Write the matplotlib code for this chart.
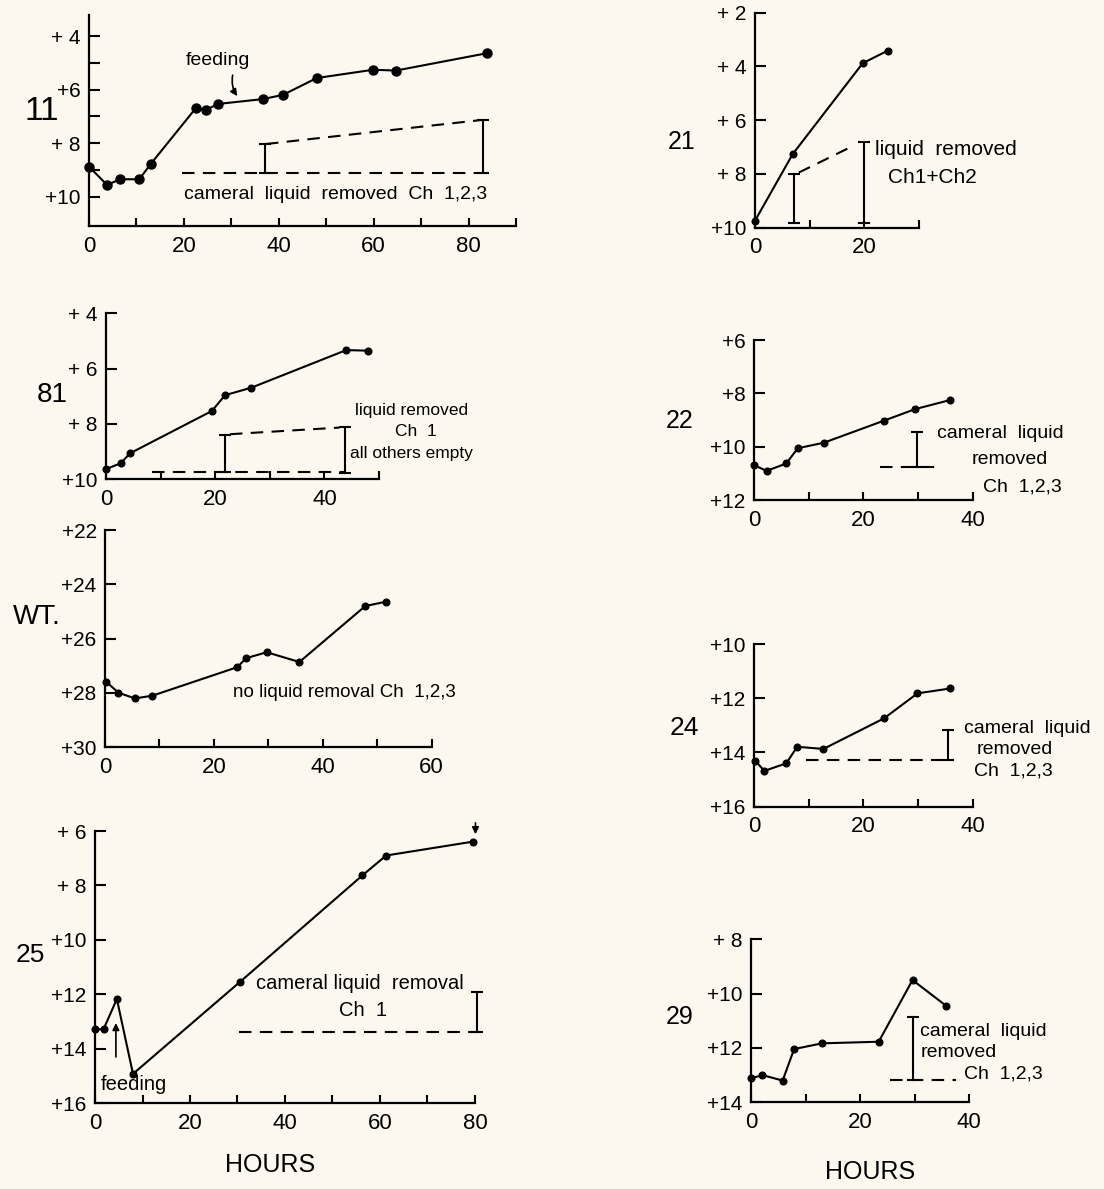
import numpy as np
import matplotlib
matplotlib.use("Agg")
import matplotlib.pyplot as plt

plt.rcParams['font.family'] = ['Liberation Sans', 'DejaVu Sans']

W, H = 1104, 1189
BG = '#fcf8f0'

# ---- data (hours, weight) ----
h11 = [0, 3.8, 6.6, 10.6, 13, 22.5, 24.7, 27.2, 36.6, 40.9, 48, 59.9, 64.7, 83.9]
w11 = [8.88, 9.56, 9.35, 9.35, 8.78, 6.69, 6.75, 6.53, 6.35, 6.19, 5.56, 5.25, 5.28, 4.63]
base11 = ([19.7, 82.0], [9.1, 9.1])
slope11 = ([37.3, 82.8], [8.03, 7.13])
bars11 = [(37.0, 8.03, 9.1), (83.1, 7.13, 9.1)]

h21 = [0, 6.9, 19.7, 24.3]
w21 = [9.74, 7.26, 3.88, 3.41]
slope21 = ([8.0, 18.1], [7.95, 6.94])
bars21 = [(7.1, 8.0, 9.83), (19.9, 6.8, 9.83)]

h81 = [0, 2.7, 4.4, 19.4, 21.8, 26.6, 44, 47.9]
w81 = [9.63, 9.42, 9.06, 7.53, 6.96, 6.69, 5.33, 5.35]
base81 = ([8.4, 44.0], [9.75, 9.75])
slope81 = ([22.7, 42.8], [8.37, 8.13])
bars81 = [(21.8, 8.4, 9.75), (43.7, 8.12, 9.78)]

h22 = [0, 2.3, 5.9, 8, 12.8, 23.7, 29.5, 35.9]
w22 = [10.69, 10.91, 10.63, 10.06, 9.85, 9.03, 8.59, 8.25]
base22 = ([23.0, 34.0], [10.78, 10.78])
bars22 = [(29.9, 9.44, 10.78)]

h28 = [0.2, 2.45, 5.5, 8.7, 24.3, 25.9, 29.7, 35.7, 47.8, 51.6]
w28 = [27.58, 27.99, 28.2, 28.1, 27.05, 26.72, 26.5, 26.86, 24.8, 24.64]

h24 = [0.2, 1.9, 5.9, 7.9, 12.7, 23.8, 29.9, 35.9]
w24 = [14.3, 14.68, 14.4, 13.79, 13.87, 12.74, 11.82, 11.64]
base24 = ([9.6, 35.5], [14.28, 14.28])
bars24 = [(35.4, 13.17, 14.28)]

h25 = [0, 1.8, 4.6, 8, 30.6, 56.3, 61.3, 79.6]
w25 = [13.28, 13.28, 12.17, 14.92, 11.53, 7.63, 6.9, 6.39]
base25 = ([30.4, 80.8], [13.37, 13.37])
bars25 = [(80.4, 11.92, 13.37)]

h29 = [0, 2.1, 5.8, 7.9, 13, 23.4, 29.6, 35.7]
w29 = [13.12, 13.0, 13.2, 12.04, 11.83, 11.77, 9.5, 10.44]
base29 = ([25.4, 37.6], [13.18, 13.18])
bars29 = [(29.7, 10.85, 13.18)]

fig = plt.figure(figsize=(W / 100, H / 100), dpi=100, facecolor=BG)


def panel(l, r, t, b, xlim, ylim, xticks, xlabels, yticks, ylabels):
    ax = fig.add_axes([l / W, 1 - b / H, (r - l) / W, (b - t) / H])
    ax.set_facecolor(BG)
    ax.patch.set_alpha(0)
    ax.set_xlim(*xlim)
    ax.set_ylim(*ylim)
    for s in ['top', 'right']:
        ax.spines[s].set_visible(False)
    for s in ['left', 'bottom']:
        ax.spines[s].set_linewidth(1.6)
    ax.set_xticks(xticks)
    ax.set_xticklabels(xlabels)
    ax.set_yticks(yticks)
    ax.set_yticklabels(ylabels)
    ax.tick_params(axis='y', direction='in', length=8, width=1.5, pad=6, labelsize=15)
    ax.tick_params(axis='x', direction='in', length=6, width=1.5, pad=7, labelsize=16)
    return ax


def series(ax, h, w, ms=4.8):
    ax.plot(h, w, color='k', lw=1.5, marker='o', ms=ms, clip_on=False, zorder=3)


def bars(ax, blist):
    for x, y0, y1 in blist:
        ax.plot([x, x], [y0, y1], color='k', lw=1.5, marker='_', ms=9, mew=1.5, clip_on=False)


def dashed(ax, xy):
    ax.plot(xy[0], xy[1], color='k', lw=1.5, ls=(0, (6, 4)), clip_on=False)


def txt(ax, x, y, s, ha='center', size=14):
    ax.text(x, y, s, ha=ha, va='center', fontsize=size, clip_on=False)


# 11
ax = panel(89, 516, 15, 226, (0, 90), (11.1, 3.2),
           range(0, 91, 10), ['0', '', '20', '', '40', '', '60', '', '80', ''],
           range(4, 11), ['+ 4', '', '+6', '', '+ 8', '', '+10'])
series(ax, h11, w11, ms=6.5)
dashed(ax, base11)
dashed(ax, slope11)
bars(ax, bars11)
txt(ax, 52, 9.92, 'cameral  liquid  removed  Ch  1,2,3')
txt(ax, 27.2, 4.9, 'feeding')
ax.annotate('', xy=(31.6, 6.32), xytext=(30.4, 5.35),
            arrowprops=dict(arrowstyle='-|>', color='k', lw=1.2, connectionstyle='arc3,rad=0.25'))

# 21
ax = panel(755, 919, 12.7, 227.7, (0, 30), (10, 2),
           [0, 10, 20, 30], ['0', '', '20', ''],
           [2, 4, 6, 8, 10], ['+ 2', '+ 4', '+ 6', '+ 8', '+10'])
series(ax, h21, w21)
dashed(ax, slope21)
bars(ax, bars21)
txt(ax, 22.0, 7.1, 'liquid  removed', ha='left', size=15)
txt(ax, 32.5, 8.15, 'Ch1+Ch2', size=15)

# 81
ax = panel(106, 379, 313.3, 479.3, (0, 50), (10, 4),
           range(0, 51, 10), ['0', '', '20', '', '40', ''],
           [4, 6, 8, 10], ['+ 4', '+ 6', '+ 8', '+10'])
series(ax, h81, w81)
dashed(ax, base81)
dashed(ax, slope81)
bars(ax, bars81)
txt(ax, 56.0, 7.5, 'liquid removed', size=12.5)
txt(ax, 56.8, 8.28, 'Ch  1', size=12.5)
txt(ax, 56.0, 9.05, 'all others empty', size=12.5)

# 22
ax = panel(754, 972.7, 340, 500, (0, 40), (12, 6),
           range(0, 41, 10), ['0', '', '20', '', '40'],
           [6, 8, 10, 12], ['+6', '+8', '+10', '+12'])
series(ax, h22, w22)
dashed(ax, base22)
bars(ax, bars22)
txt(ax, 45, 9.5, 'cameral  liquid')
txt(ax, 46.8, 10.5, 'removed')
txt(ax, 49, 11.5, 'Ch  1,2,3')

# WT
ax = panel(105, 431.7, 530, 747.3, (0, 60), (30, 22),
           range(0, 61, 10), ['0', '', '20', '', '40', '', '60'],
           [22, 24, 26, 28, 30], ['+22', '+24', '+26', '+28', '+30'])
series(ax, h28, w28)
txt(ax, 44, 28.0, 'no liquid removal Ch  1,2,3', size=13.5)

# 24
ax = panel(754, 972.7, 644, 806.7, (0, 40), (16, 10),
           range(0, 41, 10), ['0', '', '20', '', '40'],
           [10, 12, 14, 16], ['+10', '+12', '+14', '+16'])
series(ax, h24, w24)
dashed(ax, base24)
bars(ax, bars24)
txt(ax, 49.9, 13.1, 'cameral  liquid')
txt(ax, 47.7, 13.9, 'removed')
txt(ax, 47.4, 14.7, 'Ch  1,2,3')

# 25
ax = panel(95, 475, 831, 1103.3, (0, 80), (16, 6),
           range(0, 81, 10), ['0', '', '20', '', '40', '', '60', '', '80'],
           [6, 8, 10, 12, 14, 16], ['+ 6', '+ 8', '+10', '+12', '+14', '+16'])
series(ax, h25, w25)
dashed(ax, base25)
bars(ax, bars25)
txt(ax, 55.8, 11.6, 'cameral liquid  removal', size=14.5)
txt(ax, 56.5, 12.6, 'Ch  1', size=14.5)
txt(ax, 8.2, 15.3, 'feeding', size=14.5)
ax.annotate('', xy=(4.4, 12.95), xytext=(4.4, 14.4),
            arrowprops=dict(arrowstyle='-|>', color='k', lw=1.2), annotation_clip=False)
ax.annotate('', xy=(80.1, 6.22), xytext=(80.1, 5.6),
            arrowprops=dict(arrowstyle='-|>', color='k', lw=1.2), annotation_clip=False)

# 29
ax = panel(751, 969.3, 939.3, 1102.3, (0, 40), (14, 8),
           range(0, 41, 10), ['0', '', '20', '', '40'],
           [8, 10, 12, 14], ['+ 8', '+10', '+12', '+14'])
series(ax, h29, w29)
dashed(ax, base29)
bars(ax, bars29)
txt(ax, 31, 11.4, 'cameral  liquid', ha='left')
txt(ax, 31, 12.15, 'removed', ha='left')
txt(ax, 39, 12.97, 'Ch  1,2,3', ha='left')

# panel labels
for s, x, y, fs in [('11', 42, 111, 24), ('21', 682, 142, 18), ('81', 52, 395, 20),
                    ('22', 680, 421, 18), ('WT.', 37, 617, 20), ('24', 684, 728, 19),
                    ('25', 30, 955, 19), ('29', 680, 1017, 18)]:
    fig.text(x / W, 1 - y / H, s, ha='center', va='center', fontsize=fs)
fig.text(270 / W, 1 - 1165 / H, 'HOURS', ha='center', va='center', fontsize=18)
fig.text(870 / W, 1 - 1172 / H, 'HOURS', ha='center', va='center', fontsize=18)

fig.savefig('out.png', dpi=100, facecolor=BG)
